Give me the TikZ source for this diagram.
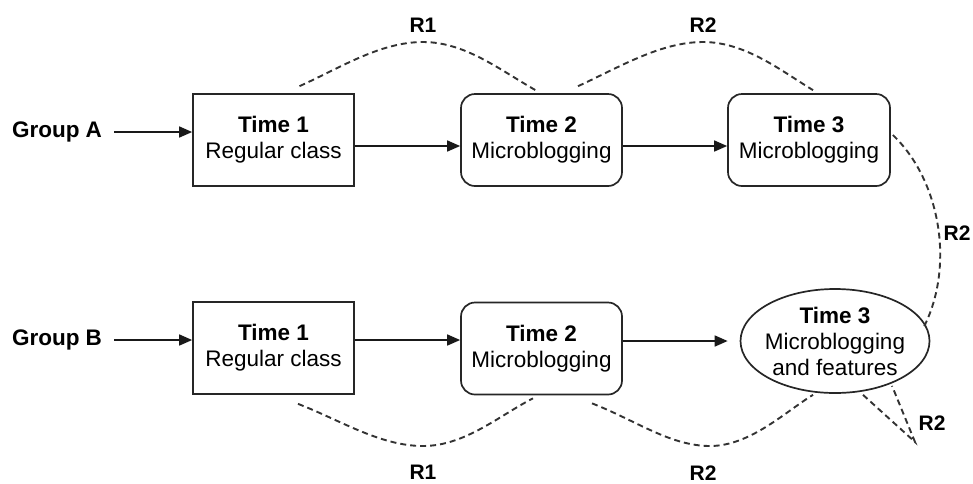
\documentclass[tikz,border=0pt]{standalone}
\usepackage{fontspec}
\setmainfont{Liberation Sans}
\usetikzlibrary{shapes.geometric,arrows.meta}
\begin{document}
\begin{tikzpicture}[x=1pt,y=-1pt,
  every node/.style={font=\fontsize{22.5}{26}\selectfont},
  box/.style={draw=black!85, line width=1.7pt, minimum width=161pt, minimum height=92pt, inner sep=0pt, align=center},
  rbox/.style={box, rounded corners=14pt},
  arr/.style={draw=black!90, line width=1.6pt, -{Triangle[length=13pt,width=11pt]}},
  rel/.style={draw=black!80, line width=1.9pt, dash pattern=on 6pt off 4pt},
  lab/.style={font=\fontsize{21}{24}\selectfont\bfseries, inner sep=0pt},
  grp/.style={font=\fontsize{22.5}{26}\selectfont\bfseries, inner xsep=12pt, inner ysep=0pt}
]
\useasboundingbox (0,0) rectangle (973,483);

% group labels
\node[grp] (ga) at (57,132) {Group A};
\node[grp] (gb) at (57,340) {Group B};

% row A
\node[box]  (a1) at (273.5,140) {\textbf{Time 1}\\Regular class};
\node[rbox] (a2) at (541.5,140) {\textbf{Time 2}\\Microblogging};
\node[rbox, minimum width=162pt] (a3) at (809,140) {\textbf{Time 3}\\Microblogging};

% row B
\node[box]  (b1) at (273.5,348) {\textbf{Time 1}\\Regular class};
\node[rbox] (b2) at (541.5,348.5) {\textbf{Time 2}\\Microblogging};
\node[ellipse, draw=black!85, line width=1.7pt, minimum width=189pt, minimum height=104pt,
      inner xsep=-14pt, inner ysep=-6pt, align=center] (e) at (835,341)
      {\textbf{Time 3}\\Microblogging\\and features};

% arrows
\draw[arr] (ga.east) -- (ga.east -| a1.west);
\draw[arr] ([yshift=-6pt]a1.east) -- ([yshift=-6pt]a2.west);
\draw[arr] ([yshift=-6pt]a2.east) -- ([yshift=-6pt]a3.west);
\draw[arr] (gb.east) -- (gb.east -| b1.west);
\draw[arr] (b1.east |- gb.east) -- (b2.west |- gb.east);
\draw[arr] (b2.east |- e.west) -- ([xshift=-12pt]e.west);

% dashed relations
\draw[rel] ([shift={(26,-7)}]a1.north) .. controls (340,68) and (380,42) .. (423,42)
  .. controls (465,42) and (500,70) .. ([shift={(-6,-3)}]a2.north);
\draw[rel] ([shift={(36.5,-7)}]a2.north) .. controls (618,68) and (660,42) .. (703,42)
  .. controls (745,42) and (780,70) .. ([shift={(4,-3)}]a3.north);
\draw[rel] ([shift={(24.5,9)}]b1.south) .. controls (340,420) and (380,446) .. (423,446)
  .. controls (465,446) and (500,415) .. ([shift={(-8.5,3)}]b2.south);
\draw[rel] ([shift={(50.5,8)}]b2.south) .. controls (635,420) and (670,446) .. (710,446)
  .. controls (750,446) and (785,412) .. ([shift={(-22,1)}]e.south);
\draw[rel] ([shift={(2,-5)}]a3.east) .. controls (940,180) and (955,265) .. ([shift={(-6.5,-14)}]e.east);
\coordinate (tip) at (915,442);
\draw[rel] ([shift={(28,1)}]e.south) -- (tip) -- ([shift={(57,-8)}]e.south);

% labels
\node[lab] (l1) at (423,25) {R1};
\node[lab] (l2) at (703,25) {R2};
\node[lab] (l3) at (423,472) {R1};
\node[lab] (l4) at (703,473) {R2};
\node[lab] (l5) at (957,233) {R2};
\node[lab] (l6) at (932,423) {R2};
\end{tikzpicture}
\end{document}
